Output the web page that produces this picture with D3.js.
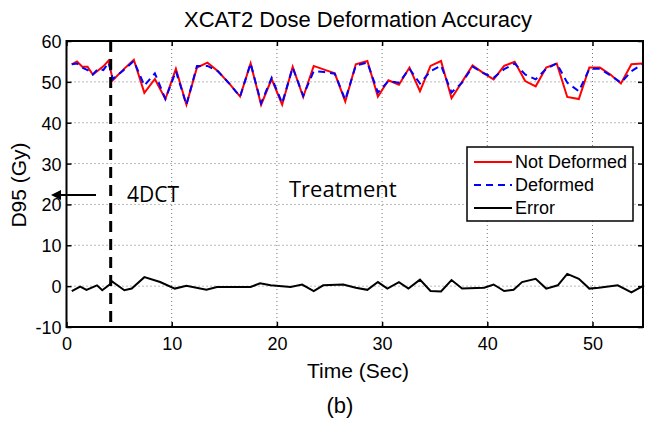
<!DOCTYPE html>
<html>
<head>
<meta charset="utf-8">
<script src="https://cdn.jsdelivr.net/npm/d3@7"></script>
<style>
  body { margin: 0; background: #fff; }
  text { font-family: "Liberation Sans", Arial, sans-serif; fill: #000; }
  .note { font-family: "Open Sans", "Noto Sans", sans-serif; }
</style>
</head>
<body>
<div id="main"></div>
<script>

//=============== DATA ===================
// time (sec) of each sample for Not Deformed / Deformed
var times = [0.5, 1.0, 1.5, 2.0, 2.5, 3.0, 3.5, 4.0,
  4.4, 5.4, 6.4, 7.4, 8.4, 9.4, 10.4, 11.4, 12.4, 13.4, 14.4, 15.5, 16.5, 17.5,
  18.5, 19.5, 20.5, 21.5, 22.5, 23.5, 24.5, 25.5, 26.5, 27.5, 28.6, 29.6, 30.6,
  31.6, 32.6, 33.6, 34.6, 35.6, 36.6, 37.6, 38.6, 39.6, 40.6, 41.6, 42.6, 43.6,
  44.6, 45.6, 46.6, 47.6, 48.7, 49.7, 50.7, 51.7, 52.7, 53.7, 54.7];

var notDeformed = [54.3, 55.0, 53.7, 53.7, 51.8, 52.8, 53.8, 55.2,
  50.4, 53.0, 55.4, 47.3, 50.7, 45.8, 53.2, 44.4, 53.5, 54.7, 52.6, 49.5, 46.4, 54.5,
  44.4, 50.7, 44.4, 53.7, 46.3, 53.9, 53.0, 52.1, 45.2, 54.3, 55.1, 46.4, 50.4,
  49.3, 53.5, 47.7, 53.9, 55.1, 46.0, 50.0, 54.0, 52.2, 50.6, 53.9, 54.9, 50.2,
  48.9, 53.5, 54.5, 46.3, 45.8, 53.5, 53.5, 51.8, 49.6, 54.3, 54.5];

var deformed = [54.3, 54.5, 53.5, 52.9, 51.8, 53.2, 52.9, 54.7,
  50.7, 52.8, 55.1, 49.1, 52.1, 45.8, 52.6, 44.4, 53.9, 53.9, 52.6, 49.5, 46.4, 54.5,
  44.8, 51.0, 44.8, 53.5, 46.6, 52.6, 52.4, 52.0, 45.6, 54.0, 54.7, 47.4, 50.2,
  49.8, 53.2, 49.6, 52.6, 54.0, 47.4, 49.8, 53.7, 52.2, 51.0, 53.1, 54.5, 51.8,
  50.6, 53.2, 54.5, 49.8, 47.7, 53.2, 53.2, 51.6, 49.8, 52.6, 54.3];

// error trace has its own sample times
var errTimes = [0.5, 1.3, 1.9, 2.9, 3.4, 4.1, 4.3, 5.5, 6.2, 7.4, 8.9, 10.3, 11.4,
  13.3, 14.3, 17.5, 18.4, 19.4, 21.3, 22.4, 23.5, 24.4, 26.3, 27.5, 28.6, 29.6,
  30.5, 31.6, 32.5, 33.6, 34.6, 35.6, 36.6, 37.6, 39.7, 40.6, 41.6, 42.5, 43.3,
  44.6, 45.6, 46.7, 47.6, 48.7, 49.7, 50.6, 52.4, 53.7, 54.9];
var errValues = [-1.2, -0.1, -0.9, 0.2, -1.0, 0.4, 1.2, -1.0, -0.6, 2.2, 1.0, -0.6, 0.1,
  -0.9, -0.2, -0.2, 0.7, 0.2, -0.2, 0.4, -1.2, 0.2, 0.4, -0.4, -0.9, 1.0,
  -0.6, 1.0, -0.6, 1.6, -1.2, -1.3, 1.5, -0.6, -0.4, 0.4, -1.2, -0.9, 1.0,
  1.8, -0.6, 0.2, 3.0, 1.8, -0.6, -0.4, 0.2, -1.5, 0.2];

var xTicks = [0, 10, 20, 30, 40, 50];
var yTicks = [-10, 0, 10, 20, 30, 40, 50, 60];
var treatStart = 4.2;
var legendItems = [
  {name: "Not Deformed", color: "#ff0000", dash: null},
  {name: "Deformed", color: "#0000ff", dash: "7,5"},
  {name: "Error", color: "#000000", dash: null}
];

//=============== LAYOUT ===================
var W = 645, H = 421,
    plot = {left: 66.5, right: 643, top: 41, bottom: 327};

var svg = d3.select("#main").append("svg")
    .attr("width", W)
    .attr("height", H);

var x = d3.scaleLinear().domain([0, 54.8]).range([plot.left, plot.right]);
var y = d3.scaleLinear().domain([-10, 60]).range([plot.bottom, plot.top]);

// plain hyphen minus like matlab
var fmt = function(d){ return String(d); };

// dotted grid
var grid = svg.append("g").attr("class", "grid");
grid.selectAll("line.vx")
  .data(xTicks.filter(function(d){ return d > 0; }))
  .enter().append("line")
  .attr("x1", function(d){ return x(d); })
  .attr("x2", function(d){ return x(d); })
  .attr("y1", plot.top)
  .attr("y2", plot.bottom);
grid.selectAll("line.hy")
  .data(yTicks.filter(function(d){ return d > -10 && d < 60; }))
  .enter().append("line")
  .attr("x1", plot.left)
  .attr("x2", plot.right)
  .attr("y1", function(d){ return y(d); })
  .attr("y2", function(d){ return y(d); });
grid.selectAll("line")
  .attr("stroke", "#777")
  .attr("stroke-width", 1)
  .attr("stroke-dasharray", "1,3");

// axes, matlab style ticks pointing inward
var xAxis = svg.append("g")
  .attr("transform", "translate(0," + plot.bottom + ")")
  .call(d3.axisBottom(x).tickValues(xTicks).tickSize(-5).tickPadding(10).tickFormat(fmt));
var yAxis = svg.append("g")
  .attr("transform", "translate(" + plot.left + ",0)")
  .call(d3.axisLeft(y).tickValues(yTicks).tickSize(-5).tickPadding(5).tickFormat(fmt));
svg.append("g")
  .attr("transform", "translate(0," + plot.top + ")")
  .call(d3.axisTop(x).tickValues(xTicks).tickSize(-5).tickFormat(""));
svg.append("g")
  .attr("transform", "translate(" + plot.right + ",0)")
  .call(d3.axisRight(y).tickValues(yTicks).tickSize(-5).tickFormat(""));

svg.selectAll(".domain").remove();
svg.selectAll(".tick line").attr("stroke", "#000").attr("stroke-width", 1.5);
svg.selectAll(".tick text").attr("font-size", 18);
yAxis.selectAll(".tick text").attr("dy", "0.36em");

svg.append("rect")
  .attr("x", plot.left)
  .attr("y", plot.top)
  .attr("width", plot.right - plot.left)
  .attr("height", plot.bottom - plot.top)
  .attr("fill", "none")
  .attr("stroke", "#000")
  .attr("stroke-width", 2);

//=============== LINES ===================
var line = d3.line()
  .x(function(d){ return x(d.t); })
  .y(function(d){ return y(d.v); });

function pairs(ts, vs){
  return ts.map(function(t, i){ return {t: t, v: vs[i]}; });
}

svg.append("path")
  .datum(pairs(times, notDeformed))
  .attr("d", line)
  .attr("fill", "none")
  .attr("stroke", "#ff0000")
  .attr("stroke-width", 2);

svg.append("path")
  .datum(pairs(times, deformed))
  .attr("d", line)
  .attr("fill", "none")
  .attr("stroke", "#0000ff")
  .attr("stroke-width", 2)
  .attr("stroke-dasharray", "7,5");

svg.append("path")
  .datum(pairs(errTimes, errValues))
  .attr("d", line)
  .attr("fill", "none")
  .attr("stroke", "#000")
  .attr("stroke-width", 2);

// 4DCT / treatment boundary
svg.append("line")
  .attr("x1", x(treatStart))
  .attr("x2", x(treatStart))
  .attr("y1", plot.top)
  .attr("y2", plot.bottom)
  .attr("stroke", "#000")
  .attr("stroke-width", 3)
  .attr("stroke-dasharray", "11,7");

//=============== ANNOTATIONS ===================
svg.append("defs").append("marker")
  .attr("id", "arrowhead")
  .attr("viewBox", "0 0 10 10")
  .attr("refX", 1)
  .attr("refY", 5)
  .attr("markerWidth", 5)
  .attr("markerHeight", 5)
  .attr("orient", "auto")
  .append("path")
  .attr("d", "M0,0 L10,5 L0,10 z")
  .attr("fill", "#000");

svg.append("line")
  .attr("x1", 96)
  .attr("x2", 60)
  .attr("y1", 195)
  .attr("y2", 195)
  .attr("stroke", "#000")
  .attr("stroke-width", 2)
  .attr("marker-end", "url(#arrowhead)");

svg.append("text")
  .attr("class", "note")
  .attr("x", 127)
  .attr("y", 202)
  .attr("font-size", 21)
  .text("4DCT");

svg.append("text")
  .attr("class", "note")
  .attr("x", 289)
  .attr("y", 197)
  .attr("font-size", 22)
  .text("Treatment");

//=============== LEGEND ===================
var legend = svg.append("g").attr("transform", "translate(467,147)");
legend.append("rect")
  .attr("width", 166)
  .attr("height", 74)
  .attr("fill", "#fff")
  .attr("stroke", "#000")
  .attr("stroke-width", 1.5);

var item = legend.selectAll("g.item")
  .data(legendItems)
  .enter().append("g")
  .attr("transform", function(d, i){ return "translate(0," + (15 + i * 23) + ")"; });

item.append("line")
  .attr("x1", 7)
  .attr("x2", 45)
  .attr("stroke", function(d){ return d.color; })
  .attr("stroke-width", 2)
  .attr("stroke-dasharray", function(d){ return d.dash; });

item.append("text")
  .attr("x", 48)
  .attr("dy", "0.36em")
  .attr("font-size", 18)
  .text(function(d){ return d.name; });

//=============== TITLES ===================
svg.append("text")
  .attr("x", 358)
  .attr("y", 27)
  .attr("text-anchor", "middle")
  .attr("font-size", 22)
  .text("XCAT2 Dose Deformation Accuracy");

svg.append("text")
  .attr("x", 358)
  .attr("y", 378)
  .attr("text-anchor", "middle")
  .attr("font-size", 21)
  .text("Time (Sec)");

svg.append("text")
  .attr("transform", "translate(26,185) rotate(-90)")
  .attr("text-anchor", "middle")
  .attr("font-size", 21)
  .text("D95 (Gy)");

svg.append("text")
  .attr("x", 340)
  .attr("y", 413)
  .attr("text-anchor", "middle")
  .attr("font-size", 22)
  .text("(b)");

</script>
</body>
</html>
